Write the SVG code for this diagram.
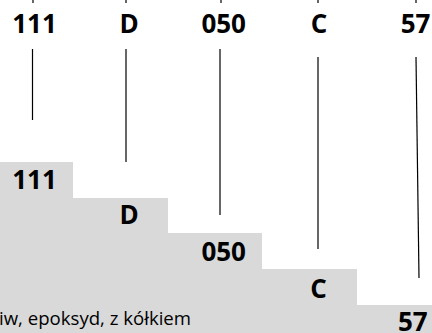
<svg xmlns="http://www.w3.org/2000/svg" width="432" height="333" viewBox="0 0 432 333">
<style>
.step{fill:#d9d9d9}
.lbl{font-family:"Open Sans","Liberation Sans",sans-serif;font-weight:bold;font-size:26px;fill:#000;text-anchor:middle}
.desc{font-family:"Open Sans","Liberation Sans",sans-serif;font-size:18.6px;fill:#000}
.ln{stroke:#000;stroke-width:1.2;fill:none}
</style>
<rect width="432" height="333" fill="#fff"/>
<g id="steps">
<g id="step-111"><rect class="step" x="0" y="162" width="73" height="171"/><text class="lbl" x="34.5" y="189.3">111</text></g>
<g id="step-D"><rect class="step" x="0" y="198" width="168" height="135"/><text class="lbl" x="129" y="224.3">D</text></g>
<g id="step-050"><rect class="step" x="0" y="233" width="262" height="100"/><text class="lbl" x="223.7" y="261">050</text></g>
<g id="step-C"><rect class="step" x="0" y="269" width="357" height="64"/><text class="lbl" x="318.5" y="297.7">C</text></g>
<g id="step-57"><rect class="step" x="0" y="305" width="432" height="28"/><text class="lbl" x="412.8" y="330.6">57</text></g>
<text id="desc" class="desc" x="-1" y="325">iw, epoksyd, z kółkiem</text>
</g>
<g id="codes">
<g id="code-111"><text class="lbl" x="34.5" y="33.3">111</text></g>
<g id="code-D"><text class="lbl" x="129" y="33.3">D</text></g>
<g id="code-050"><text class="lbl" x="223.7" y="33.3">050</text></g>
<g id="code-C"><text class="lbl" x="319" y="33.3">C</text></g>
<g id="code-57"><text class="lbl" x="415.5" y="33.3">57</text></g>
</g>
<g id="connectors">
<line class="ln" x1="33" y1="0" x2="33" y2="3"/>
<line class="ln" x1="126" y1="0" x2="126" y2="3"/>
<line class="ln" x1="221" y1="0" x2="221" y2="3"/>
<line class="ln" x1="318" y1="0" x2="318" y2="3"/>
<line class="ln" x1="416" y1="0" x2="416" y2="3"/>
<line class="ln" x1="32.5" y1="49" x2="32.5" y2="120"/>
<line class="ln" x1="126" y1="49" x2="126" y2="162"/>
<line class="ln" x1="220" y1="49" x2="220" y2="215"/>
<line class="ln" x1="318" y1="57" x2="318" y2="249"/>
<line class="ln" x1="416" y1="57" x2="419" y2="278"/>
</g>
</svg>
